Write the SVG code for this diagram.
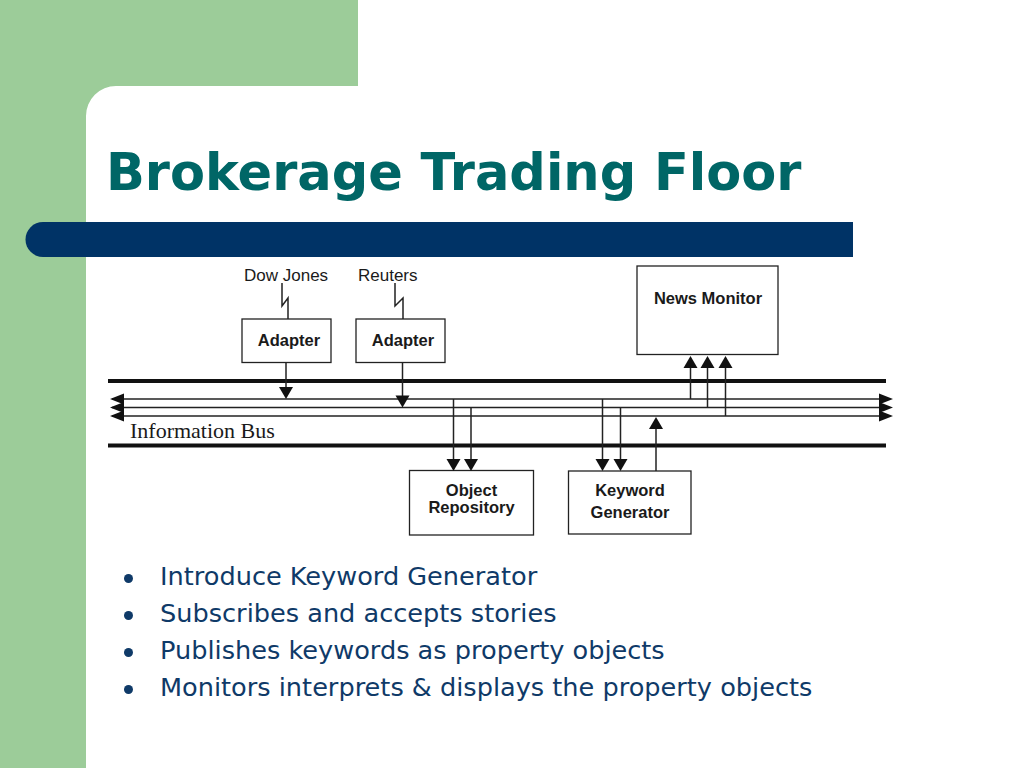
<svg xmlns="http://www.w3.org/2000/svg" width="1024" height="768" viewBox="0 0 1024 768">
<style>
.box{fill:#fff;stroke:#222;stroke-width:1.3}
.lbl{font-family:"Liberation Sans",Arial,sans-serif;font-weight:bold;font-size:16.5px;fill:#1a1a1a;text-anchor:middle}
.src{font-family:"Liberation Sans",Arial,sans-serif;font-size:17px;fill:#1a1a1a}
.bus{stroke:#111;stroke-width:4;fill:none}
.thin{stroke:#222;stroke-width:1.5;fill:none}
.bul{font-family:"DejaVu Sans",Verdana,sans-serif;font-size:25.6px;fill:#0f3a68}
</style>
<defs>
<path id="ah" d="M-7,-12 L7,-12 L0,0 Z" fill="#111"/>
</defs>
<rect width="1024" height="768" fill="#fff"/>
<g id="background">
<path d="M0,0 H358 V86 H116 A30,30 0 0 0 86,116 V768 H0 Z" fill="#9ccc99"/>
<path d="M43,222 H853 V257 H43 A17.5,17.5 0 0 1 43,222 Z" fill="#003366"/>
</g>
<text x="106" y="190" font-family="'DejaVu Sans',Verdana,sans-serif" font-weight="bold" font-size="51" fill="#006666">Brokerage Trading Floor</text>
<g id="bus">
<line class="bus" x1="108" y1="381" x2="886" y2="381"/>
<line class="bus" x1="108" y1="445.5" x2="886" y2="445.5"/>
<line class="thin" x1="112" y1="399" x2="882" y2="399"/>
<line class="thin" x1="112" y1="407.5" x2="882" y2="407.5"/>
<line class="thin" x1="112" y1="416" x2="882" y2="416"/>
<path d="M110,399 L124,393.5 L124,404.5 Z M110,407.5 L124,402 L124,413 Z M110,416 L124,410.5 L124,421.5 Z" fill="#111"/>
<path d="M893,399 L879,393.5 L879,404.5 Z M893,407.5 L879,402 L879,413 Z M893,416 L879,410.5 L879,421.5 Z" fill="#111"/>
<text x="130" y="438" font-family="'Liberation Serif','Times New Roman',serif" font-size="22" fill="#1a1a1a">Information Bus</text>
</g>
<g id="dowjones">
<text class="src" x="244" y="281">Dow Jones</text>
</g>
<g id="reuters">
<text class="src" x="358" y="281">Reuters</text>
</g>
<g id="adapter1">
<rect class="box" x="242" y="319" width="89" height="43.5"/>
<text class="lbl" x="289" y="345.5">Adapter</text>
</g>
<g id="adapter2">
<rect class="box" x="356" y="319" width="89" height="43.5"/>
<text class="lbl" x="403" y="345.5">Adapter</text>
</g>
<g id="newsmonitor">
<rect class="box" x="637" y="266" width="141" height="88.5"/>
<text class="lbl" x="708" y="304">News Monitor</text>
</g>
<g id="objectrepository">
<rect class="box" x="409.5" y="470.5" width="124" height="64.5"/>
<text class="lbl" x="471.5" y="496">Object</text>
<text class="lbl" x="471.5" y="513">Repository</text>
</g>
<g id="keywordgenerator">
<rect class="box" x="568.5" y="471" width="122.5" height="63"/>
<text class="lbl" x="630" y="496">Keyword</text>
<text class="lbl" x="630" y="518">Generator</text>
</g>
<g id="connectors">
<path class="thin" d="M282,283 V306 L288,298 V319"/>
<path class="thin" d="M395,283 V306 L403,298 V319"/>
<line class="thin" x1="286" y1="362.5" x2="286" y2="390"/>
<use href="#ah" x="286" y="399"/>
<line class="thin" x1="402.5" y1="362.5" x2="402.5" y2="398"/>
<use href="#ah" x="402.5" y="407.5"/>
<line class="thin" x1="690.5" y1="399" x2="690.5" y2="366"/>
<use href="#ah" transform="translate(690.5,356) rotate(180)"/>
<line class="thin" x1="707.5" y1="407.5" x2="707.5" y2="366"/>
<use href="#ah" transform="translate(707.5,356) rotate(180)"/>
<line class="thin" x1="725.5" y1="416" x2="725.5" y2="366"/>
<use href="#ah" transform="translate(725.5,356) rotate(180)"/>
<line class="thin" x1="453.5" y1="399" x2="453.5" y2="461"/>
<use href="#ah" x="453.5" y="471"/>
<line class="thin" x1="471" y1="407.5" x2="471" y2="461"/>
<use href="#ah" x="471" y="471"/>
<line class="thin" x1="602.5" y1="399" x2="602.5" y2="461"/>
<use href="#ah" x="602.5" y="471"/>
<line class="thin" x1="620.5" y1="407.5" x2="620.5" y2="461"/>
<use href="#ah" x="620.5" y="471"/>
<line class="thin" x1="656" y1="471" x2="656" y2="427"/>
<use href="#ah" transform="translate(656,417) rotate(180)"/>
</g>
<g id="bullets">
<circle cx="128.5" cy="578.5" r="4.5" fill="#0f3a68"/>
<circle cx="128.5" cy="615.5" r="4.5" fill="#0f3a68"/>
<circle cx="128.5" cy="652.5" r="4.5" fill="#0f3a68"/>
<circle cx="128.5" cy="689.5" r="4.5" fill="#0f3a68"/>
<text class="bul" x="160" y="585">Introduce Keyword Generator</text>
<text class="bul" x="160" y="622">Subscribes and accepts stories</text>
<text class="bul" x="160" y="659">Publishes keywords as property objects</text>
<text class="bul" x="160" y="696">Monitors interprets &amp; displays the property objects</text>
</g>
</svg>
